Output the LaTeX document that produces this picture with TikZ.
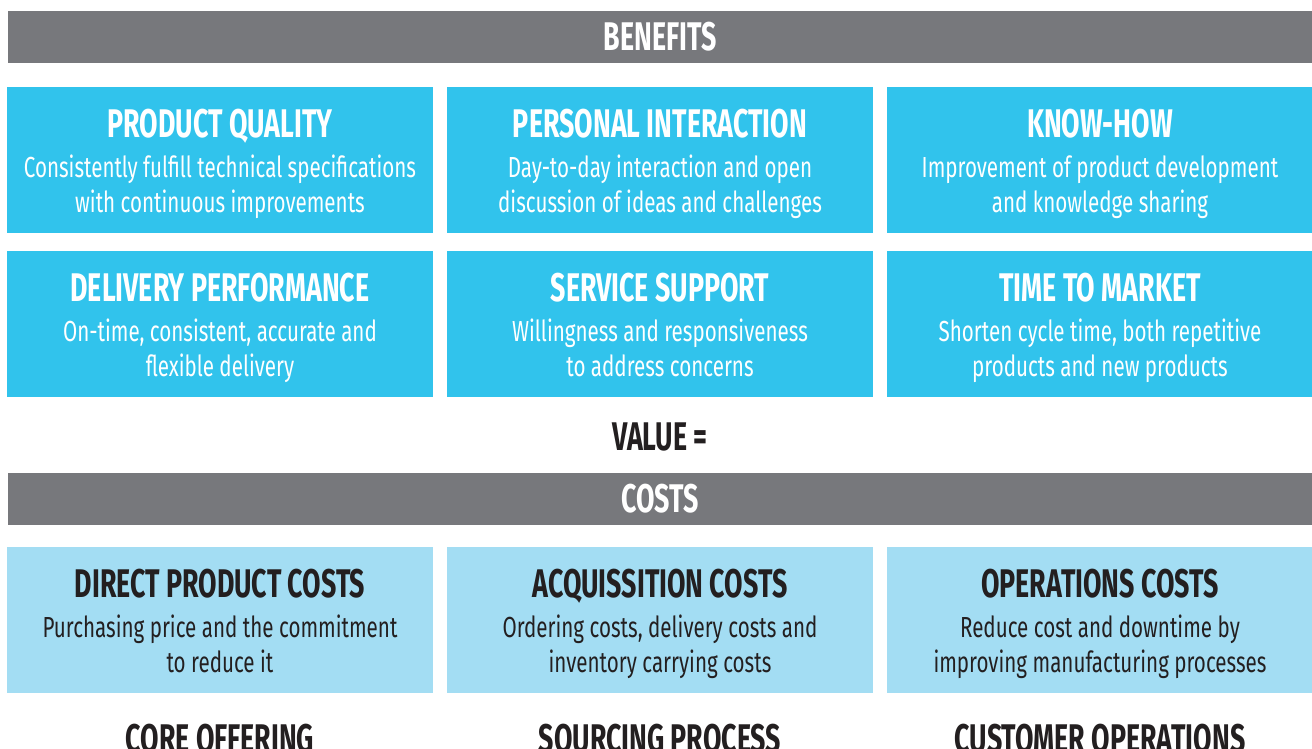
\documentclass[tikz,border=0pt]{standalone}
\usepackage{fontspec}
\newfontfamily\titolofont[FakeStretch=0.67]{Fira Sans}
\newfontfamily\testofont[FakeStretch=0.71]{Fira Sans}

\definecolor{grigio}{HTML}{77787C}
\definecolor{ciano}{HTML}{31C3EC}
\definecolor{azzurro}{HTML}{A3DDF3}
\definecolor{scuro}{HTML}{231F20}

\newcommand{\titolo}[1]{{\titolofont\bfseries\fontsize{40}{42}\selectfont #1}\\[5pt]}

\tikzset{
  barra/.style={fill=grigio, minimum width=1304pt, minimum height=52pt, inner sep=0pt,
    text=white, font=\titolofont\bfseries\fontsize{40}{42}\selectfont},
  beneficio/.style={fill=ciano, minimum width=426pt, minimum height=146pt, inner sep=0pt,
    text height=125pt, text depth=21pt,
    text=white, align=center, font=\testofont\fontsize{29}{35}\selectfont},
  costo/.style={beneficio, fill=azzurro, text=scuro},
  voce/.style={text=scuro, font=\titolofont\bfseries\fontsize{40}{42}\selectfont}
}

\begin{document}
\begin{tikzpicture}[x=1pt, y=-1pt]

\useasboundingbox (0,0) rectangle (1312,749);
\clip (0,0) rectangle (1312,749);

% Barra dei benefici
\node[barra] (benefits) at (660,37) {BENEFITS};

% Prima riga
\node[beneficio] (quality) at (220,160)
  {\titolo{PRODUCT QUALITY}Consistently fulfill technical specifications\\with continuous improvements};
\node[beneficio] (interaction) at (660,160)
  {\titolo{PERSONAL INTERACTION}Day-to-day interaction and open\\discussion of ideas and challenges};
\node[beneficio] (knowhow) at (1100,160)
  {\titolo{KNOW-HOW}Improvement of product development\\and knowledge sharing};

% Seconda riga
\node[beneficio] (delivery) at (220,324)
  {\titolo{DELIVERY PERFORMANCE}On-time, consistent, accurate and\\flexible delivery};
\node[beneficio] (service) at (660,324)
  {\titolo{SERVICE SUPPORT}Willingness and responsiveness\\to address concerns};
\node[beneficio] (market) at (1100,324)
  {\titolo{TIME TO MARKET}Shorten cycle time, both repetitive\\products and new products};

% Uguale
\node[voce] (value) at (660,437) {VALUE =};

% Barra dei costi
\node[barra] (costs) at (660,499) {COSTS};

% Riga dei costi
\node[costo] (direct) at (220,620)
  {\titolo{DIRECT PRODUCT COSTS}Purchasing price and the commitment\\to reduce it};
\node[costo] (acquisition) at (660,620)
  {\titolo{ACQUISSITION COSTS}Ordering costs, delivery costs and\\inventory carrying costs};
\node[costo] (operations) at (1100,620)
  {\titolo{OPERATIONS COSTS}Reduce cost and downtime by\\improving manufacturing processes};

% Voci in fondo
\node[voce] (core) at (220,739) {CORE OFFERING};
\node[voce] (sourcing) at (660,739) {SOURCING PROCESS};
\node[voce] (customer) at (1100,739) {CUSTOMER OPERATIONS};

\end{tikzpicture}
\end{document}
